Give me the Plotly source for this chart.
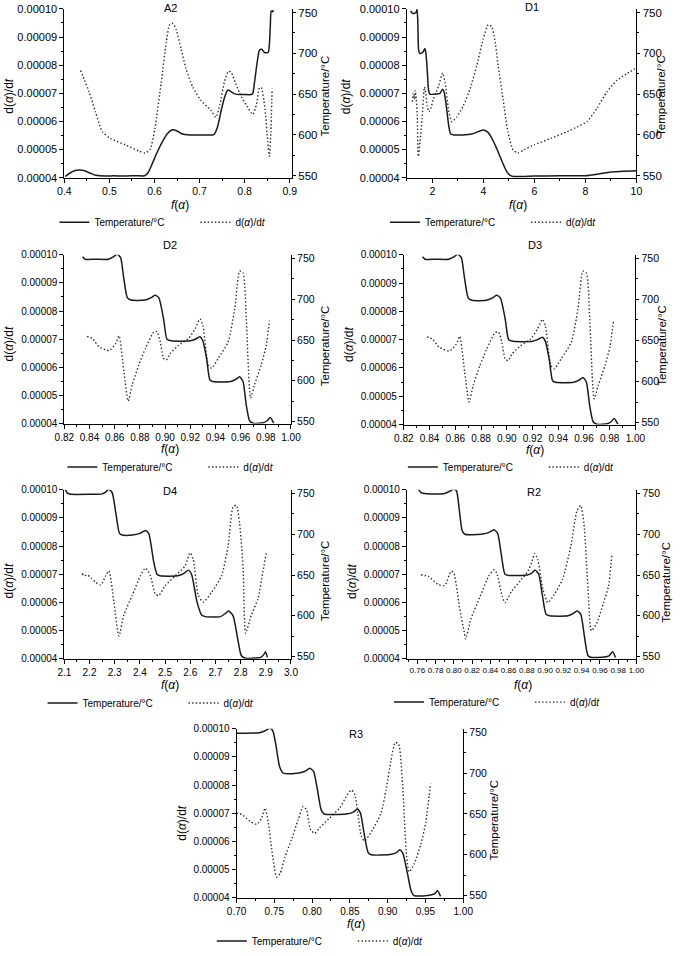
import plotly.graph_objects as go

W, H = 685, 956

# ---------------- data ----------------
TEMP_NAME = "Temperature/°C"
RATE_NAME = "d(<i>α</i>)/d<i>t</i>"
X_TITLE = "<i>f</i>(<i>α</i>)"
PANEL_NAMES = ["A2", "D1", "D2", "D3", "D4", "R2", "R3"]

# A2
A2_temp_x = [0.402, 0.412, 0.422, 0.433, 0.445, 0.458, 0.470, 0.490, 0.510, 0.530, 0.560, 0.578,
             0.586, 0.596, 0.607, 0.618, 0.628, 0.638, 0.648, 0.660, 0.680, 0.710, 0.732, 0.740,
             0.748, 0.756, 0.763, 0.770, 0.780, 0.800, 0.817, 0.822, 0.828, 0.833, 0.838, 0.844,
             0.852, 0.855, 0.857, 0.859, 0.862, 0.864]
A2_temp = [549, 553, 556, 557, 556, 553, 550.5, 549.5, 550, 549.5, 550, 550,
           554, 566, 580, 592, 601, 606, 605.5, 601.5, 600, 600, 600.5, 610,
           630, 647, 655, 653, 650, 649.5, 650, 665, 690, 704, 705, 701,
           701, 712, 735, 752, 751, 753]
A2_rate_x = [0.436, 0.445, 0.455, 0.469, 0.484, 0.502, 0.535, 0.565, 0.579, 0.590, 0.601, 0.615,
             0.626, 0.634, 0.641, 0.648, 0.659, 0.670, 0.685, 0.703, 0.725, 0.736, 0.745, 0.755,
             0.764, 0.770, 0.780, 0.792, 0.805, 0.818, 0.826, 0.833, 0.837, 0.845, 0.851, 0.855,
             0.858, 0.861]
A2_rate = [7.81e-5, 7.45e-5, 7.05e-5, 6.34e-5, 5.64e-5, 5.40e-5, 5.17e-5, 4.95e-5, 4.88e-5, 5.00e-5,
           5.76e-5, 7.40e-5, 8.80e-5, 9.45e-5, 9.48e-5, 9.27e-5, 8.57e-5, 7.87e-5, 7.22e-5, 6.75e-5,
           6.40e-5, 6.15e-5, 6.60e-5, 7.40e-5, 7.78e-5, 7.75e-5, 7.35e-5, 6.90e-5, 6.55e-5, 6.25e-5,
           6.60e-5, 7.20e-5, 7.20e-5, 6.46e-5, 5.30e-5, 4.76e-5, 5.60e-5, 7.16e-5]

# D1
D1_temp_x = [1.15, 1.22, 1.30, 1.36, 1.40, 1.43, 1.46, 1.50, 1.60, 1.66, 1.71, 1.75, 1.80, 1.85,
             1.90, 2.10, 2.30, 2.40, 2.46, 2.55, 2.65, 2.72, 2.85, 3.20, 3.54, 3.80, 4.00, 4.15,
             4.30, 4.50, 4.70, 4.90, 5.05, 5.20, 6.00, 7.00, 8.00, 8.50, 9.00, 9.50, 10.0]
D1_temp = [752, 749, 749, 750, 754, 740, 705, 700, 700.5, 703, 706, 700, 680, 656,
           650, 650, 651, 656, 653, 635, 610, 601, 600, 600, 601, 604, 606, 604,
           598, 585, 570, 556, 550.5, 549, 549.5, 550, 550, 552, 554.5, 555.5, 556]
D1_rate_x = [1.22, 1.26, 1.30, 1.33, 1.37, 1.41, 1.45, 1.52, 1.60, 1.69, 1.74, 1.80, 1.87, 1.95,
             2.05, 2.25, 2.40, 2.50, 2.63, 2.76, 2.96, 3.22, 3.48, 3.74, 3.99, 4.19, 4.32, 4.45,
             4.58, 4.77, 4.96, 5.16, 5.35, 5.60, 6.00, 6.65, 7.29, 7.68, 8.06, 8.45, 8.84, 9.23,
             9.61, 9.94]
D1_rate = [6.7e-5, 7.0e-5, 6.8e-5, 7.1e-5, 6.8e-5, 6.2e-5, 4.76e-5, 5.3e-5, 6.1e-5, 7.22e-5,
           7.0e-5, 6.55e-5, 6.34e-5, 6.5e-5, 6.81e-5, 7.27e-5, 7.72e-5, 7.39e-5, 6.46e-5, 5.99e-5,
           6.16e-5, 6.57e-5, 7.16e-5, 7.98e-5, 8.91e-5, 9.44e-5, 9.38e-5, 8.91e-5, 7.98e-5, 6.81e-5,
           5.64e-5, 5.0e-5, 4.88e-5, 5.0e-5, 5.17e-5, 5.40e-5, 5.64e-5, 5.81e-5, 5.99e-5, 6.46e-5,
           7.05e-5, 7.46e-5, 7.69e-5, 7.87e-5]

# D2
D2_temp_x = [0.8345, 0.8365, 0.845, 0.855, 0.859, 0.862, 0.8647, 0.867, 0.870, 0.873, 0.884, 0.889,
             0.892, 0.895, 0.8988, 0.9015, 0.905, 0.920, 0.924, 0.9277, 0.930, 0.933, 0.9356, 0.938,
             0.952, 0.9565, 0.9592, 0.9619, 0.9645, 0.9671, 0.970, 0.978, 0.981, 0.9835, 0.9863]
D2_temp = [752, 749, 749, 749, 752, 755, 751, 728, 702, 699, 699, 702,
           705, 702, 676, 651, 649, 649, 651, 654, 649, 627, 601, 599,
           599, 602, 605, 599, 570, 551, 548, 548.5, 551, 555, 548]
D2_rate_x = [0.838, 0.8423, 0.8476, 0.8555, 0.8607, 0.8634, 0.8673, 0.8707, 0.8739, 0.8791, 0.8844,
             0.891, 0.8936, 0.8962, 0.8988, 0.901, 0.904, 0.9106, 0.9185, 0.9238, 0.9277, 0.930,
             0.9343, 0.9369, 0.9422, 0.950, 0.9553, 0.9592, 0.9619, 0.9645, 0.9679, 0.971, 0.9763,
             0.9803, 0.9829]
D2_rate = [7.10e-5, 7.02e-5, 6.73e-5, 6.60e-5, 6.84e-5, 7.12e-5, 5.85e-5, 4.80e-5, 5.38e-5, 6.08e-5,
           6.67e-5, 7.25e-5, 7.27e-5, 6.90e-5, 6.32e-5, 6.26e-5, 6.49e-5, 6.78e-5, 7.02e-5, 7.37e-5,
           7.72e-5, 7.49e-5, 6.08e-5, 5.97e-5, 6.32e-5, 6.90e-5, 8.07e-5, 9.42e-5, 9.36e-5, 7.72e-5,
           4.91e-5, 5.38e-5, 6.08e-5, 6.78e-5, 7.66e-5]

# D3
D3_temp_x = [0.8345, 0.8365, 0.845, 0.855, 0.859, 0.862, 0.8647, 0.867, 0.870, 0.873, 0.884, 0.889,
             0.892, 0.895, 0.8988, 0.9015, 0.905, 0.920, 0.924, 0.9277, 0.930, 0.933, 0.9356, 0.938,
             0.952, 0.9565, 0.9592, 0.9619, 0.9645, 0.9671, 0.970, 0.978, 0.981, 0.9835, 0.9863]
D3_temp = [752, 749, 749, 749, 752, 755, 751, 728, 702, 699, 699, 702,
           705, 702, 676, 651, 649, 649, 651, 654, 649, 627, 601, 599,
           599, 602, 605, 599, 570, 551, 548, 548.5, 551, 555, 548]
D3_rate_x = [0.838, 0.8423, 0.8476, 0.8555, 0.8607, 0.8634, 0.8673, 0.8707, 0.8739, 0.8791, 0.8844,
             0.891, 0.8936, 0.8962, 0.8988, 0.901, 0.904, 0.9106, 0.9185, 0.9238, 0.9277, 0.930,
             0.9343, 0.9369, 0.9422, 0.950, 0.9553, 0.9592, 0.9619, 0.9645, 0.9679, 0.971, 0.9763,
             0.9803, 0.9829]
D3_rate = [7.10e-5, 7.02e-5, 6.73e-5, 6.60e-5, 6.84e-5, 7.12e-5, 5.85e-5, 4.80e-5, 5.38e-5, 6.08e-5,
           6.67e-5, 7.25e-5, 7.27e-5, 6.90e-5, 6.32e-5, 6.26e-5, 6.49e-5, 6.78e-5, 7.02e-5, 7.37e-5,
           7.72e-5, 7.49e-5, 6.08e-5, 5.97e-5, 6.32e-5, 6.90e-5, 8.07e-5, 9.42e-5, 9.36e-5, 7.72e-5,
           4.91e-5, 5.38e-5, 6.08e-5, 6.78e-5, 7.66e-5]

# D4
D4_temp_x = [2.104, 2.113, 2.126, 2.20, 2.25, 2.265, 2.277, 2.29, 2.304, 2.319, 2.33, 2.37, 2.40,
             2.422, 2.435, 2.455, 2.468, 2.48, 2.55, 2.575, 2.593, 2.606, 2.626, 2.645, 2.66, 2.72,
             2.74, 2.752, 2.77, 2.79, 2.803, 2.82, 2.87, 2.88, 2.893, 2.899, 2.906]
D4_temp = [755, 750, 749, 749, 749.5, 752, 755, 751, 727, 701, 699, 699, 701,
           704.5, 701, 666, 651, 649, 649, 652, 656, 650, 618, 601, 599, 599,
           603, 606, 600, 569, 551, 548, 548.5, 549, 553, 556, 549]
D4_rate_x = [2.170, 2.180, 2.192, 2.205, 2.225, 2.245, 2.264, 2.277, 2.297, 2.317, 2.336, 2.369,
             2.402, 2.422, 2.442, 2.461, 2.475, 2.500, 2.540, 2.579, 2.599, 2.612, 2.632, 2.652,
             2.685, 2.724, 2.750, 2.770, 2.783, 2.796, 2.810, 2.820, 2.842, 2.869, 2.888, 2.902]
D4_rate = [7.02e-5, 6.95e-5, 6.97e-5, 6.88e-5, 6.71e-5, 6.62e-5, 6.94e-5, 7.12e-5, 6.0e-5, 4.8e-5,
           5.54e-5, 6.24e-5, 6.94e-5, 7.22e-5, 6.94e-5, 6.30e-5, 6.24e-5, 6.59e-5, 6.94e-5, 7.29e-5,
           7.76e-5, 7.53e-5, 6.24e-5, 6.01e-5, 6.36e-5, 6.94e-5, 7.99e-5, 9.39e-5, 9.45e-5, 8.81e-5,
           7.18e-5, 4.9e-5, 5.54e-5, 6.13e-5, 7.06e-5, 7.76e-5]

# R2
R2_temp_x = [0.761, 0.764, 0.770, 0.790, 0.796, 0.800, 0.803, 0.806, 0.809, 0.812, 0.830, 0.838,
             0.844, 0.848, 0.852, 0.856, 0.860, 0.880, 0.885, 0.889, 0.893, 0.897, 0.901, 0.905,
             0.925, 0.931, 0.935, 0.939, 0.943, 0.947, 0.951, 0.965, 0.970, 0.974, 0.977]
R2_temp = [756, 751, 749.5, 750, 753, 755.5, 753, 730, 705, 700, 700, 702,
           705.5, 701, 675, 651, 649.5, 650, 652, 656, 651, 625, 602, 600,
           600, 603, 606, 602, 575, 551, 549, 549.5, 551, 556, 549]
R2_rate_x = [0.764, 0.772, 0.783, 0.790, 0.797, 0.800, 0.806, 0.8114, 0.813, 0.8186, 0.829, 0.838,
             0.844, 0.847, 0.853, 0.856, 0.8634, 0.8724, 0.881, 0.885, 0.8886, 0.892, 0.8976, 0.903,
             0.910, 0.919, 0.928, 0.935, 0.939, 0.9425, 0.947, 0.9507, 0.957, 0.964, 0.9694, 0.973]
R2_rate = [6.98e-5, 6.92e-5, 6.63e-5, 6.60e-5, 7.10e-5, 7.04e-5, 5.87e-5, 4.94e-5, 4.70e-5, 5.40e-5,
           6.22e-5, 6.92e-5, 7.16e-5, 7.04e-5, 6.22e-5, 5.99e-5, 6.40e-5, 6.75e-5, 7.10e-5, 7.39e-5,
           7.74e-5, 7.51e-5, 6.46e-5, 5.99e-5, 6.28e-5, 6.81e-5, 7.98e-5, 9.26e-5, 9.44e-5, 8.80e-5,
           6.46e-5, 4.99e-5, 5.29e-5, 5.99e-5, 6.57e-5, 7.68e-5]

# R3
R3_temp_x = [0.700, 0.710, 0.730, 0.738, 0.744, 0.748, 0.752, 0.757, 0.762, 0.780, 0.790, 0.797,
             0.802, 0.807, 0.812, 0.816, 0.845, 0.854, 0.860, 0.864, 0.869, 0.874, 0.878, 0.905,
             0.912, 0.916, 0.920, 0.926, 0.931, 0.935, 0.955, 0.962, 0.966, 0.970]
R3_temp = [749, 749, 749.5, 752, 755.5, 752, 735, 708, 700, 700, 702, 706,
           702, 680, 655, 650, 650, 652, 656, 651, 625, 603, 600, 600.5,
           603, 606, 602, 578, 556, 550, 550.5, 552, 556, 549]
R3_rate_x = [0.700, 0.707, 0.718, 0.7268, 0.7333, 0.7377, 0.7421, 0.7465, 0.7531, 0.7575, 0.764,
             0.7728, 0.7816, 0.7882, 0.7925, 0.7978, 0.8035, 0.810, 0.8232, 0.8364, 0.8452, 0.8518,
             0.8561, 0.8605, 0.865, 0.8693, 0.8803, 0.8912, 0.8978, 0.9044, 0.910, 0.9145, 0.9197,
             0.925, 0.9285, 0.9351, 0.9439, 0.9504, 0.9548, 0.957]
R3_rate = [7.0e-5, 6.95e-5, 6.71e-5, 6.6e-5, 6.83e-5, 7.18e-5, 6.66e-5, 5.72e-5, 4.73e-5, 4.85e-5,
           5.43e-5, 6.07e-5, 6.77e-5, 7.24e-5, 7.12e-5, 6.42e-5, 6.28e-5, 6.48e-5, 6.83e-5, 7.18e-5,
           7.59e-5, 7.82e-5, 7.70e-5, 7.0e-5, 6.19e-5, 6.01e-5, 6.42e-5, 7.0e-5, 7.82e-5, 8.87e-5,
           9.51e-5, 9.45e-5, 8.05e-5, 5.49e-5, 4.91e-5, 5.20e-5, 5.90e-5, 6.66e-5, 7.59e-5, 8.05e-5]

RATE_TICKS = [4e-5, 5e-5, 6e-5, 7e-5, 8e-5, 9e-5, 10e-5]
TEMP_TICKS = [550, 600, 650, 700, 750]

SERIES = {
    "A2": (A2_temp_x, A2_temp, A2_rate_x, A2_rate),
    "D1": (D1_temp_x, D1_temp, D1_rate_x, D1_rate),
    "D2": (D2_temp_x, D2_temp, D2_rate_x, D2_rate),
    "D3": (D3_temp_x, D3_temp, D3_rate_x, D3_rate),
    "D4": (D4_temp_x, D4_temp, D4_rate_x, D4_rate),
    "R2": (R2_temp_x, R2_temp, R2_rate_x, R2_rate),
    "R3": (R3_temp_x, R3_temp, R3_rate_x, R3_rate),
}

# ---------------- layout spec (pixel positions) ----------------
# box: left, right, top, bottom; title / ytitle-left / ytitle-right / xtitle centres; legend (y, text x)
PANELS = {
    "A2": dict(box=(65, 295, 9, 180), title=(172, 8), yl=(9, 97), yr=(328, 97), xt=(182, 208),
               leg=(221, 95), xr=[0.4, 0.905], tick0=0.4, dtick=0.1, fmt=".1f", minor=0.05,
               xfs=10.5, yfs=11),
    "D1": dict(box=(411, 643, 9, 180), title=(537, 7), yl=(349, 97), yr=(668, 97), xt=(523, 208),
               leg=(221, 429), xr=[1, 10], tick0=2, dtick=2, fmt="d", minor=1,
               xfs=10.5, yfs=11),
    "D2": dict(box=(65, 294, 258, 429), title=(172, 248), yl=(9, 348), yr=(328, 350),
               xt=(172, 455), leg=(469, 103), xr=[0.82, 1.0], tick0=0.82, dtick=0.02, fmt=".2f",
               minor=0.01, xfs=10, yfs=10),
    "D3": dict(box=(408, 642, 258, 430), title=(541, 248), yl=(352, 348), yr=(668, 350),
               xt=(541, 456), leg=(469, 447), xr=[0.82, 1.0], tick0=0.82, dtick=0.02, fmt=".2f",
               minor=0.01, xfs=10, yfs=10),
    "D4": dict(box=(65, 294, 496, 667), title=(172, 497), yl=(9, 588), yr=(328, 588),
               xt=(172, 694), leg=(708, 83), xr=[2.1, 3.0], tick0=2.1, dtick=0.1, fmt=".1f",
               minor=0.05, xfs=10, yfs=10),
    "R2": dict(box=(411, 643, 496, 667), title=(540, 498), yl=(355, 588), yr=(672, 590),
               xt=(528, 694), leg=(707, 433), xr=[0.7485, 1.0], tick0=0.76, dtick=0.02,
               fmt=".2f", minor=0.01, xfs=8, yfs=10),
    "R3": dict(box=(239, 468, 738, 909), title=(360, 743), yl=(183, 833), yr=(499, 830),
               xt=(360, 936), leg=(949, 254), xr=[0.70, 1.0], tick0=0.70, dtick=0.05, fmt=".2f",
               minor=0.025, xfs=10, yfs=10),
}

FONT = "Liberation Sans, Arial, sans-serif"
INK = "#1a1a1a"
AXIS_COMMON = dict(showline=True, linecolor="black", linewidth=1, showgrid=False,
                   zeroline=False, ticks="outside", ticklen=4, tickwidth=1, tickcolor="black",
                   automargin=False, color="black")

fig = go.Figure()
annotations = []
layout = dict(width=W, height=H, margin=dict(l=0, r=0, t=0, b=0),
              paper_bgcolor="white", plot_bgcolor="white",
              font=dict(family=FONT, color="black", size=10), showlegend=True)


def note(text, pos, size, angle=0):
    annotations.append(dict(text=text, x=pos[0] / W, y=1 - pos[1] / H, xref="paper",
                            yref="paper", showarrow=False, xanchor="center", yanchor="middle",
                            textangle=angle, font=dict(size=size, family=FONT, color="black")))


for i, name in enumerate(PANEL_NAMES, start=1):
    p = PANELS[name]
    tx, ty, rx, ry = SERIES[name]
    l, r, t, b = p["box"]
    xid = "x" if i == 1 else f"x{i}"
    yl = 2 * i - 1
    yr = 2 * i
    ylid = "y" if yl == 1 else f"y{yl}"
    yrid = f"y{yr}"
    legid = "legend" if i == 1 else f"legend{i}"

    fig.add_trace(go.Scatter(x=tx, y=ty, mode="lines", name=TEMP_NAME, xaxis=xid, yaxis=yrid,
                             line=dict(color=INK, width=1.5, shape="spline", smoothing=0.6),
                             legend=legid))
    fig.add_trace(go.Scatter(x=rx, y=ry, mode="lines", name=RATE_NAME, xaxis=xid, yaxis=ylid,
                             line=dict(color="#2a2a2a", width=1.4, dash="1.4px,2.2px",
                                       shape="spline", smoothing=0.6),
                             legend=legid))

    xkey = "xaxis" if i == 1 else f"xaxis{i}"
    ylkey = "yaxis" if yl == 1 else f"yaxis{yl}"
    yrkey = f"yaxis{yr}"

    layout[xkey] = dict(AXIS_COMMON, domain=[l / W, r / W], anchor=ylid, range=p["xr"],
                        tick0=p["tick0"], dtick=p["dtick"], tickformat=p["fmt"],
                        tickfont=dict(size=p["xfs"], family=FONT),
                        minor=dict(dtick=p["minor"], ticklen=2, ticks="outside", tickcolor="black"))
    layout[ylkey] = dict(AXIS_COMMON, domain=[1 - b / H, 1 - t / H], anchor=xid,
                         range=[4e-5, 1e-4], tickvals=RATE_TICKS, tickformat=".5f",
                         tickfont=dict(size=p["yfs"], family=FONT),
                         minor=dict(dtick=0.5e-5, tick0=4e-5, ticklen=2, ticks="outside",
                                    tickcolor="black"))
    layout[yrkey] = dict(AXIS_COMMON, domain=[1 - b / H, 1 - t / H], anchor=xid,
                         overlaying=ylid, side="right", range=[547.5, 754.5],
                         tickvals=TEMP_TICKS, tickfont=dict(size=p["yfs"] + 0.5, family=FONT),
                         ticklen=3,
                         minor=dict(dtick=25, tick0=550, ticklen=2, ticks="outside",
                                    tickcolor="black"))

    note(name, p["title"], 11)
    note(RATE_NAME, p["yl"], 12, -90)
    note(TEMP_NAME, p["yr"], 11.5, -90)
    note(X_TITLE, p["xt"], 12)

    ly, tx1 = p["leg"]
    layout[legid] = dict(orientation="h", x=(tx1 - 40) / W, y=1 - (ly + 4) / H, xanchor="left",
                         yanchor="middle", entrywidth=96, entrywidthmode="pixels",
                         bgcolor="rgba(0,0,0,0)", font=dict(size=10, family=FONT),
                         itemwidth=30, tracegroupgap=0)

layout["annotations"] = annotations
fig.update_layout(**layout)
fig.write_html("out.html", config={"displayModeBar": False},
               post_script="document.body.style.margin='0px';"
                           "document.body.style.overflow='hidden';")
